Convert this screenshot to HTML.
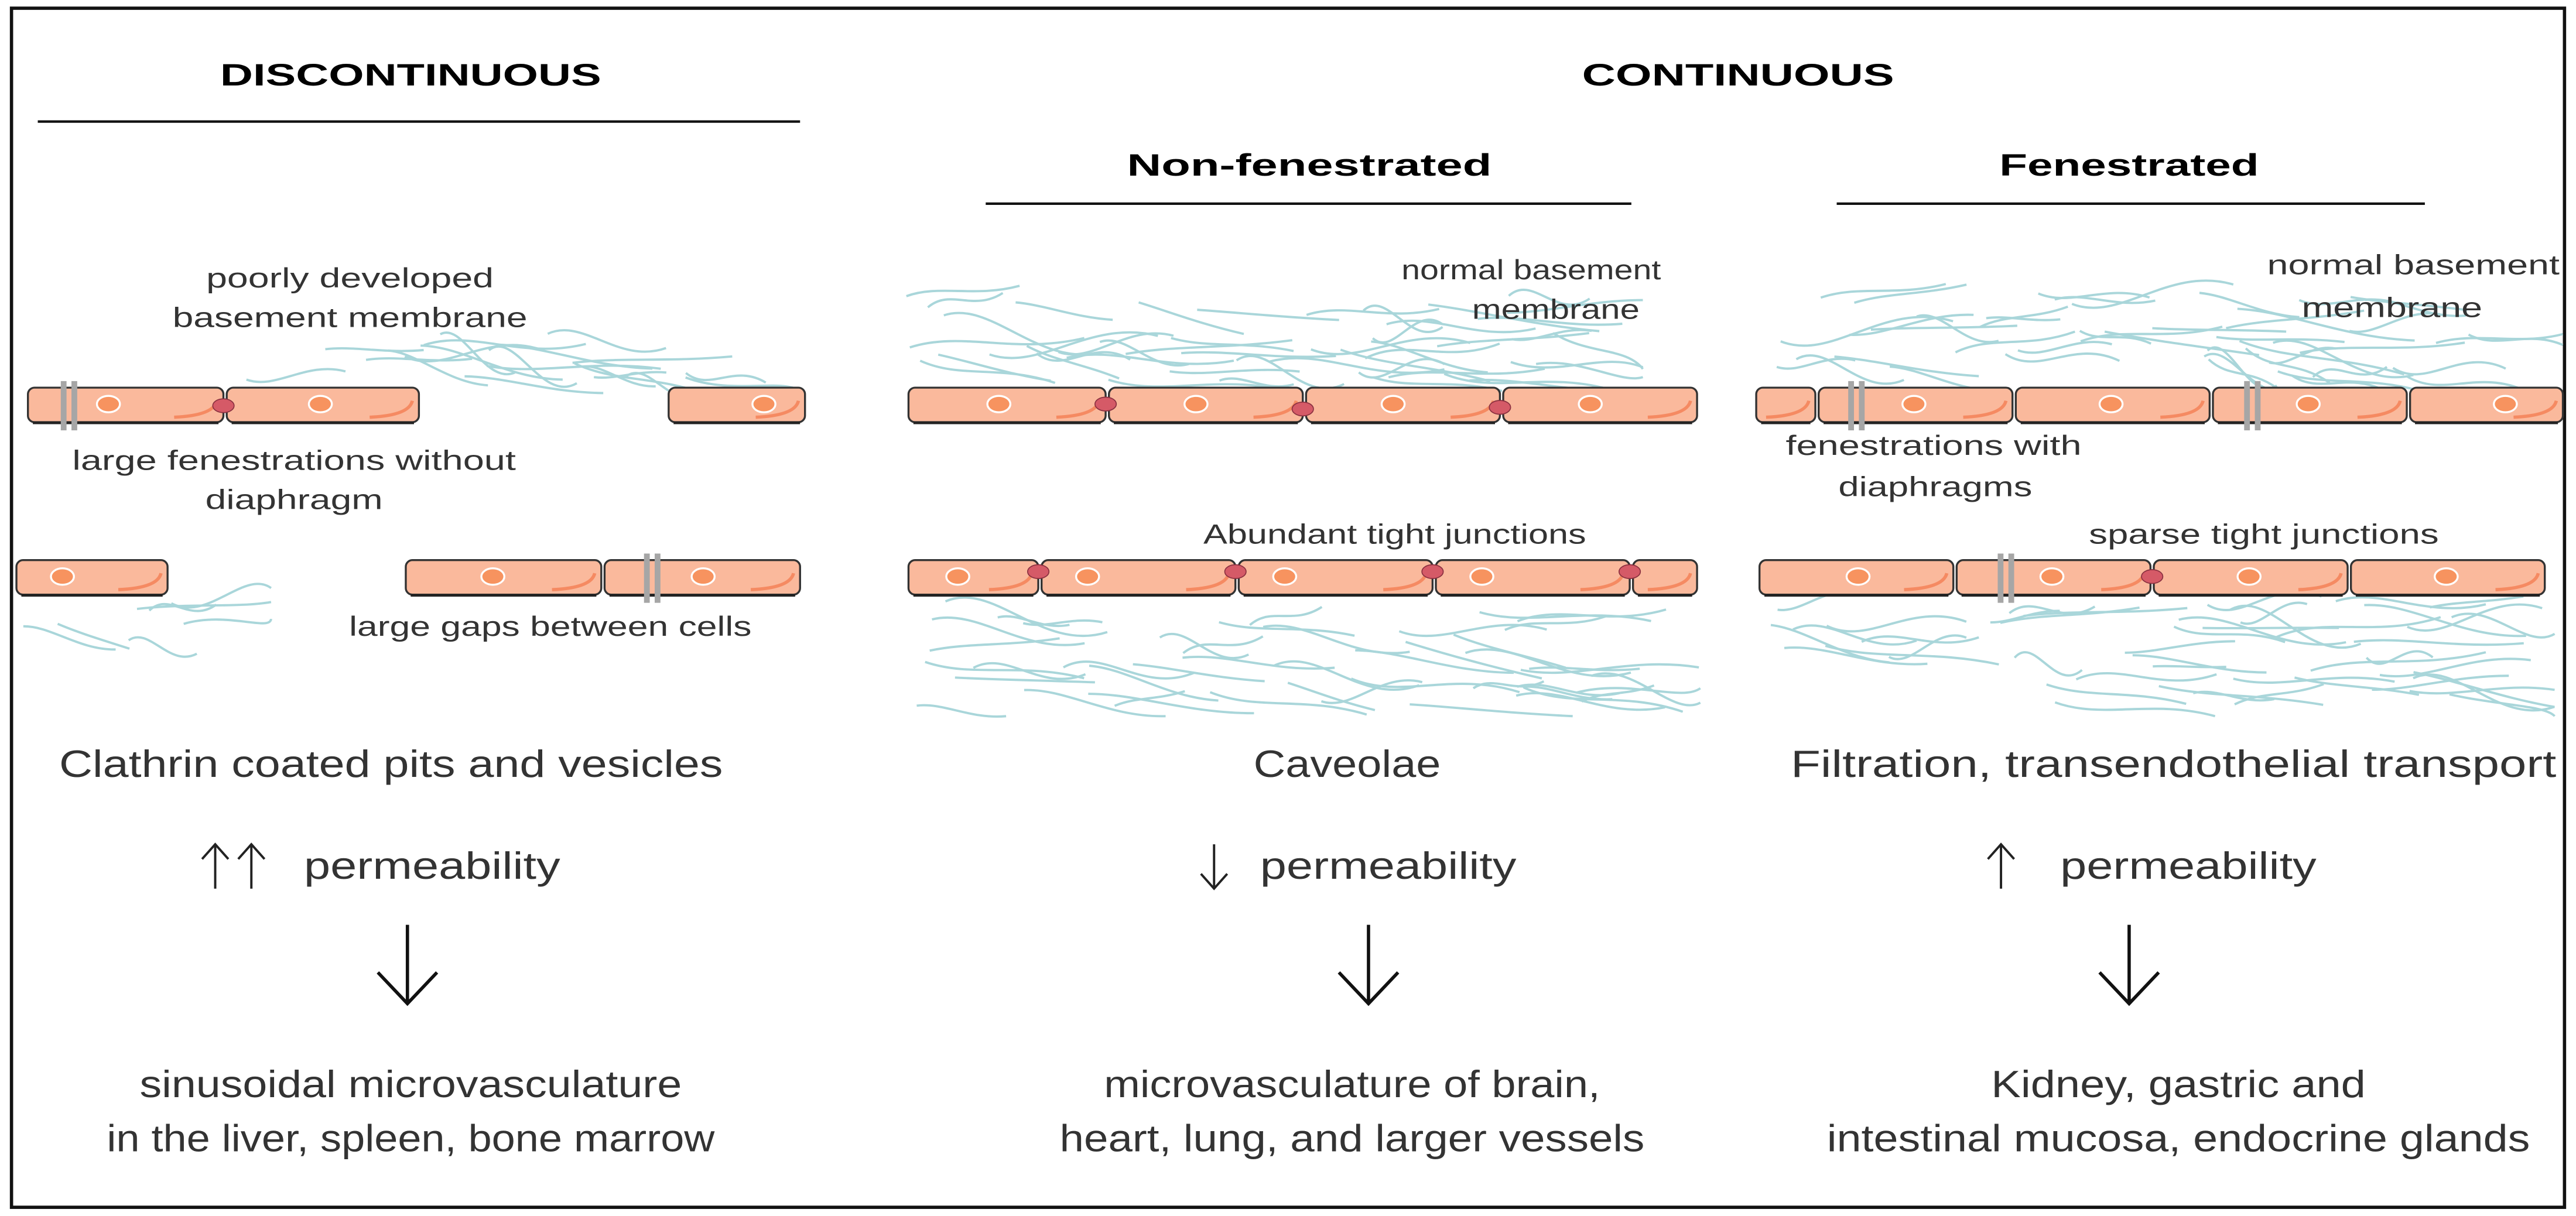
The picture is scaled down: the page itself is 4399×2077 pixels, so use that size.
<!DOCTYPE html>
<html><head><meta charset="utf-8"><style>
html,body{margin:0;padding:0;background:#fff;}
svg{display:block;}
text{font-family:"Liberation Sans",sans-serif;fill:#333;}
.b{font-weight:bold;fill:#000;}
</style></head><body>
<svg id="s" width="4399" height="2077" viewBox="0 0 1568 740.3" preserveAspectRatio="none" xmlns="http://www.w3.org/2000/svg">
<rect x="7" y="5" width="1554" height="730" fill="#fff" stroke="#111" stroke-width="2"/>
<g id="fib" fill="none" stroke="#a9d6da" stroke-width="1.4"></g>
<g id="cells"></g>
<text class="b" x="250" y="52" font-size="19" text-anchor="middle" textLength="232" lengthAdjust="spacingAndGlyphs">DISCONTINUOUS</text>
<line x1="23" y1="74" x2="487" y2="74" stroke="#111" stroke-width="1.5"/>
<text class="b" x="1058" y="52" font-size="19" text-anchor="middle" textLength="190" lengthAdjust="spacingAndGlyphs">CONTINUOUS</text>
<text class="b" x="797" y="107" font-size="19" text-anchor="middle" textLength="222" lengthAdjust="spacingAndGlyphs">Non-fenestrated</text>
<line x1="600" y1="124" x2="993" y2="124" stroke="#111" stroke-width="1.5"/>
<text class="b" x="1296" y="107" font-size="19" text-anchor="middle" textLength="158" lengthAdjust="spacingAndGlyphs">Fenestrated</text>
<line x1="1118" y1="124" x2="1476" y2="124" stroke="#111" stroke-width="1.5"/>
<g font-size="17" text-anchor="middle">
<text x="213" y="175" textLength="175" lengthAdjust="spacingAndGlyphs">poorly developed</text>
<text x="213" y="199" textLength="216" lengthAdjust="spacingAndGlyphs">basement membrane</text>
<text x="179" y="286" textLength="270" lengthAdjust="spacingAndGlyphs">large fenestrations without</text>
<text x="179" y="310" textLength="108" lengthAdjust="spacingAndGlyphs">diaphragm</text>
<text x="335" y="387" textLength="245" lengthAdjust="spacingAndGlyphs">large gaps between cells</text>
<text x="932" y="170" textLength="158" lengthAdjust="spacingAndGlyphs">normal basement</text>
<text x="947" y="194" textLength="102" lengthAdjust="spacingAndGlyphs">membrane</text>
<text x="849" y="331" textLength="233" lengthAdjust="spacingAndGlyphs">Abundant tight junctions</text>
<text x="1469" y="167" textLength="178" lengthAdjust="spacingAndGlyphs">normal basement</text>
<text x="1456" y="193" textLength="110" lengthAdjust="spacingAndGlyphs">membrane</text>
<text x="1177" y="277" textLength="180" lengthAdjust="spacingAndGlyphs">fenestrations with</text>
<text x="1178" y="302" textLength="118" lengthAdjust="spacingAndGlyphs">diaphragms</text>
<text x="1378" y="331" textLength="213" lengthAdjust="spacingAndGlyphs">sparse tight junctions</text>
</g>
<g font-size="23" text-anchor="middle">
<text x="238" y="473" textLength="404" lengthAdjust="spacingAndGlyphs">Clathrin coated pits and vesicles</text>
<text x="820" y="473" textLength="114" lengthAdjust="spacingAndGlyphs">Caveolae</text>
<text x="1323" y="473" textLength="466" lengthAdjust="spacingAndGlyphs">Filtration, transendothelial transport</text>
<text x="263" y="535" textLength="156" lengthAdjust="spacingAndGlyphs">permeability</text>
<text x="845" y="535" textLength="156" lengthAdjust="spacingAndGlyphs">permeability</text>
<text x="1332" y="535" textLength="156" lengthAdjust="spacingAndGlyphs">permeability</text>
<text x="250" y="668" textLength="330" lengthAdjust="spacingAndGlyphs">sinusoidal microvasculature</text>
<text x="250" y="701" textLength="370" lengthAdjust="spacingAndGlyphs">in the liver, spleen, bone marrow</text>
<text x="823" y="668" textLength="302" lengthAdjust="spacingAndGlyphs">microvasculature of brain,</text>
<text x="823" y="701" textLength="356" lengthAdjust="spacingAndGlyphs">heart, lung, and larger vessels</text>
<text x="1326" y="668" textLength="228" lengthAdjust="spacingAndGlyphs">Kidney, gastric and</text>
<text x="1326" y="701" textLength="428" lengthAdjust="spacingAndGlyphs">intestinal mucosa, endocrine glands</text>
</g>
<g stroke="#222" stroke-width="1.4" fill="none">
<path d="M131 541V515M123 523L131 514L139 523"/>
<path d="M153 541V515M145 523L153 514L161 523"/>
<path d="M739 514V540M731 532L739 541L747 532"/>
<path d="M1218 541V515M1210 523L1218 514L1226 523"/>
</g>
<g stroke="#111" stroke-width="2" fill="none">
<path d="M248 563V610M230 592L248 611L266 592"/>
<path d="M833 563V610M815 592L833 611L851 592"/>
<path d="M1296 563V610M1278 592L1296 611L1314 592"/>
</g>
</svg>
<script>
(function(){
var NS="http://www.w3.org/2000/svg";
var seed=7;function r(){seed=(seed*16807)%2147483647;return (seed-1)/2147483646;}
var fib=document.getElementById('fib');
function fibers(x0,x1,y0,y1,n){
 for(var i=0;i<n;i++){
  var x=x0+r()*(x1-x0-50),y=y0+r()*(y1-y0);
  var L=40+r()*70,dy=(r()-0.35)*36,w=(r()-0.5)*28;
  var ex=Math.min(x+L,x1),ey=Math.max(y0-6,Math.min(y1+6,y+dy));
  var d="M"+x.toFixed(1)+" "+y.toFixed(1)+" C"+(x+L*0.3).toFixed(1)+" "+(y+w).toFixed(1)+" "+(x+L*0.6).toFixed(1)+" "+(ey-w).toFixed(1)+" "+ex.toFixed(1)+" "+ey.toFixed(1);
  var p=document.createElementNS(NS,'path');p.setAttribute('d',d);fib.appendChild(p);
 }
}
fibers(150,490,198,234,20);
fibers(14,165,364,392,7);
fibers(550,1000,180,232,45);
fibers(553,1035,366,430,45);
fibers(1069,1560,178,232,45);
fibers(1069,1555,366,430,45);
var g=document.getElementById('cells');
function el(t,a){var e=document.createElementNS(NS,t);for(var k in a)e.setAttribute(k,a[k]);g.appendChild(e);return e;}
function cell(x1,x2,y,nx){
 el('rect',{x:x1,y:y,width:x2-x1,height:21,rx:4,fill:'#fab99c',stroke:'#333','stroke-width':1.2});
 el('line',{x1:x1+3,y1:y+21.5,x2:x2-3,y2:y+21.5,stroke:'#222','stroke-width':1.5});
 el('path',{d:'M'+(x2-30)+' '+(y+18)+' Q'+(x2-6)+' '+(y+17)+' '+(x2-4)+' '+(y+8),stroke:'#f58a62','stroke-width':2,fill:'none'});
 if(nx!==null){el('ellipse',{cx:nx,cy:y+10,rx:7,ry:5,fill:'#f7935f',stroke:'#fff','stroke-width':1.2});}
}
function jn(x,y){el('ellipse',{cx:x,cy:y,rx:6.5,ry:4.2,fill:'#d55a67',stroke:'#8a3040','stroke-width':0.6});}
function fen(x,y){el('rect',{x:x-5,y:y-4,width:3.5,height:30,fill:'#a6a6a6'});el('rect',{x:x+1.5,y:y-4,width:3.5,height:30,fill:'#a6a6a6'});}
var T=236,B=341;
cell(17,136,T,66);cell(138,255,T,195);cell(407,490,T,465);
fen(42,T);jn(136,T+11);
cell(10,102,B,38);cell(247,366,B,300);cell(368,487,B,428);
fen(397,B);
var xs=[553,673,793,913,1033];
for(var i=0;i<4;i++)cell(xs[i]+(i?2:0),xs[i+1],T,xs[i]+55);
jn(673,T+10);jn(793,T+13);jn(913,T+12);
var xb=[553,632,752,872,992,1033];
for(i=0;i<5;i++)cell(xb[i]+(i?2:0),xb[i+1],B,i<4?xb[i]+30:null);
[632,752,872,992].forEach(function(x){jn(x,B+7);});
var xf=[1069,1105,1225,1345,1465,1560];
for(i=0;i<5;i++)cell(xf[i]+(i?2:0),xf[i+1],T,i?xf[i]+60:null);
fen(1130,T);fen(1371,T);
var xg=[1071,1189,1309,1429,1549];
for(i=0;i<4;i++)cell(xg[i]+(i?2:0),xg[i+1],B,xg[i]+60);
fen(1221,B);jn(1310,B+10);
})();
</script>
</body></html>
